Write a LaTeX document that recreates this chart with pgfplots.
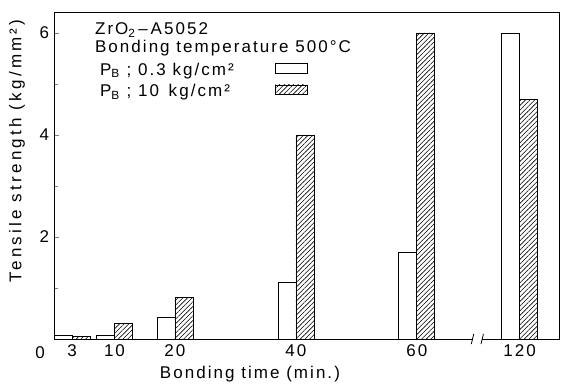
\documentclass[border=0pt]{standalone}
\usepackage{pgfplots}
\pgfplotsset{compat=1.18}
\usepackage{fontspec}
\setmainfont[LetterSpace=12]{Liberation Sans}
\newfontfamily\wideLS[LetterSpace=19]{Liberation Sans}
\usetikzlibrary{patterns,patterns.meta}

\begin{document}
\fontsize{17}{20}\selectfont
\begin{tikzpicture}
\begin{axis}[
  scale only axis, width=505pt, height=327pt,
  xmin=0, xmax=83.5, ymin=0, ymax=6.41,
  clip=false,
  ybar=0pt, bar width=18pt,
  axis line style={line width=0.9pt},
  xtick={3,10,20,40,60,77},
  xticklabels={3,10,20,40,60,120},
  xtick style={draw=none},
  xtick pos=bottom, ytick pos=left,
  ytick={2,4,6}, minor ytick={1,3,5},
  tick align=inside, major tick length=5pt, minor tick length=4pt,
  ytick style={line width=0.8pt},
  /pgf/number format/assume math mode=true,
  tick label style={font=\fontsize{17}{20}\selectfont},
  yticklabel style={xshift=1pt},
  label style={font=\fontsize{17}{20}\selectfont},
  xlabel={Bonding time (min.)},
  ylabel={\wideLS Tensile strength (kg/mm²)},
  x label style={at={(rel axis cs:0.388,0)}, anchor=north, yshift=-21pt},
  y label style={at={(rel axis cs:0,0.575)}, anchor=center, yshift=37pt},
]
\addplot[draw=black, line width=0.8pt, fill=white] coordinates {
  (3,0.07) (10,0.07) (20,0.42) (40,1.10) (60,1.70) (77,6.0)};
\addplot[draw=black, line width=0.8pt, pattern={Lines[angle=45,distance=3.3pt,line width=0.6pt]}] coordinates {
  (3,0.05) (10,0.31) (20,0.81) (40,4.0) (60,6.0) (77,4.7)};
% axis break
\fill[white] (axis cs:69.2,-0.06) rectangle (axis cs:70.8,0.06);
\draw[line width=0.8pt] (axis cs:69.0,-0.1) -- (axis cs:69.4,0.1);
\draw[line width=0.8pt] (axis cs:70.6,-0.1) -- (axis cs:71.0,0.1);
% origin label
\node[anchor=north, inner sep=0pt] at ([xshift=-14pt,yshift=-7pt]rel axis cs:0,0) {0};
% annotation
\node[anchor=west, inner sep=0pt] at (rel axis cs:0.081,0.945) {ZrO\textsubscript{2}\,–\,A5052};
\node[anchor=west, inner sep=0pt] at (rel axis cs:0.081,0.890) {Bonding temperature 500°C};
\node[anchor=west, inner sep=0pt] at (rel axis cs:0.091,0.820) {P\textsubscript{B} ; 0.3 kg/cm²};
\node[anchor=west, inner sep=0pt] at (rel axis cs:0.091,0.755) {P\textsubscript{B} ; 10\, kg/cm²};
\draw[line width=0.8pt, fill=white] (rel axis cs:0.438,0.813) rectangle (rel axis cs:0.501,0.844);
\draw[line width=0.8pt, pattern={Lines[angle=45,distance=3.3pt,line width=0.6pt]}] (rel axis cs:0.438,0.749) rectangle (rel axis cs:0.501,0.777);
% bounding box to match reference margins
\path ([xshift=-54pt,yshift=-46pt]rel axis cs:0,0) -- ([xshift=4pt,yshift=12pt]rel axis cs:1,1);
\end{axis}
\end{tikzpicture}
\end{document}
